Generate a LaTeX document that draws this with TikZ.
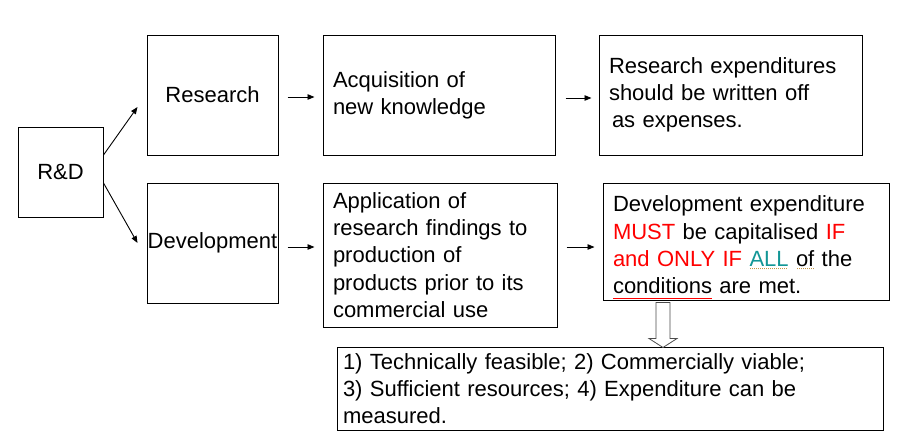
\documentclass[tikz,border=0pt]{standalone}
\usepackage{fontspec}
\setmainfont{Liberation Sans}
\usetikzlibrary{arrows.meta}
\definecolor{allteal}{RGB}{18,150,150}
\definecolor{spellgold}{RGB}{196,150,70}
\newlength\marklen
\newcommand\redmark[1]{\leavevmode\settowidth\marklen{#1}\rlap{#1}\textcolor{red}{\rule[-5.5pt]{\marklen}{1.4pt}}}
\newcommand\dotmark[1]{\leavevmode\settowidth\marklen{#1}\rlap{#1}\raisebox{-3pt}{\textcolor{spellgold}{\hbox to\marklen{\leaders\hbox to 2pt{\hss\rule{1pt}{1pt}\hss}\hfill}}}}

\begin{document}
\begin{tikzpicture}[x=1pt,y=-1pt,>={Triangle[length=7pt,width=5.5pt]},
  every node/.style={font=\fontsize{22}{27.3}\selectfont},
  box/.style={draw,line width=1pt,inner sep=0pt},
  textbox/.style={box,align=left,inner xsep=10pt},
  arr/.style={->,line width=0.9pt}]
\useasboundingbox (0,0) rectangle (916,439);
% first column
\node[box,minimum width=85,minimum height=90] (rd) at (60.5,172){R\&D};
\node[box,minimum width=131,minimum height=120] (research) at (212.5,95){Research};
\node[box,minimum width=131,minimum height=120] (devel) at (212.5,243){Development};
\draw[arr] ([yshift=17pt]rd.east)--([xshift=-9pt,yshift=-12pt]research.west);
\draw[arr] ([yshift=-11pt]rd.east)--([xshift=-9pt]devel.west);
% meaning of each
\node[textbox,text width=212,minimum height=120] (acq) at (439,95){Acquisition of\\new knowledge};
\node[textbox,text width=214,minimum height=144] (appl) at (440,255){Application of\\research findings to\\production of\\products prior to its\\commercial use};
\draw[arr,shorten <=9pt,shorten >=8pt] ([yshift=-2pt]research.east)--([yshift=-2pt]research.east-|acq.west);
\draw[arr,shorten <=9pt,shorten >=8pt] ([yshift=-4pt]devel.east)--([yshift=-4pt]devel.east-|appl.west);
% treatment
\node[textbox,text width=243,minimum height=120] (resexp) at (730.5,95){Research expenditures\\should be written off\\\hspace{3pt}as expenses.};
\node[textbox,text width=266,minimum height=117] (devexp) at (746,241.5){\rule{0pt}{28pt}Development expenditure\\\textcolor{red}{MUST} be capitalised \textcolor{red}{IF}\\\textcolor{red}{and ONLY IF} \dotmark{\textcolor{allteal}{ALL}} \dotmark{of} the\\\redmark{conditions} are met.};
\draw[arr,shorten <=10pt,shorten >=7pt] ([yshift=-3pt]acq.east)--([yshift=-3pt]acq.east-|resexp.west);
\draw[arr,shorten <=9pt,shorten >=8pt] ([yshift=8pt]appl.east)--([yshift=8pt]appl.east-|devexp.west);
% conditions
\node[textbox,inner xsep=6pt,text width=534,minimum height=83] (conds) at (610,388.5){1) Technically feasible; 2) Commercially viable;\\3) Sufficient resources; 4) Expenditure can be\\measured.};
\coordinate (harr) at ([xshift=-83pt,yshift=-2pt]devexp.south);
\draw[fill=white,draw=black!70,line width=0.8pt] (harr) ++(-7,0) -- ++(0,36) -- ++(-7,0) -- ++(14,9) -- ++(14,-9) -- ++(-7,0) -- ++(0,-36) -- cycle;
\end{tikzpicture}
\end{document}
